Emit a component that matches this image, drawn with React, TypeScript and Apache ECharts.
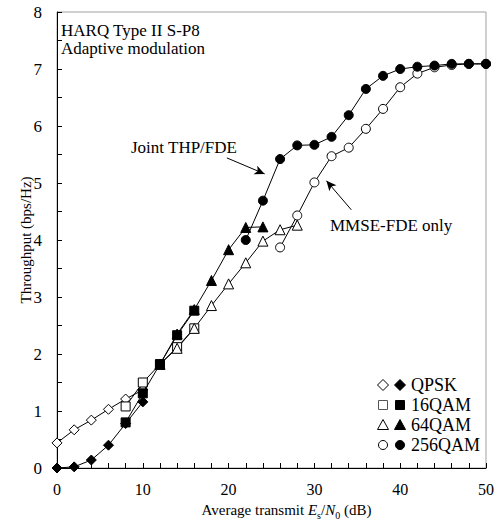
import React, { useEffect, useRef } from "react";
import * as echarts from "echarts";

// ---- data ----
const qpskX = [0, 2, 4, 6, 8, 10];
const qpskOpen = [0.44, 0.67, 0.84, 1.03, 1.21, 1.37];
const qpskFilled = [0.0, 0.02, 0.14, 0.4, 0.78, 1.16];

const qam16X = [8, 10, 12, 14, 16];
const qam16Open = [1.08, 1.5, 1.82, 2.12, 2.45];
const qam16Filled = [0.8, 1.31, 1.82, 2.33, 2.76];

const qam64X = [12, 14, 16, 18, 20, 22, 24, 26, 28];
const qam64Open = [1.82, 2.1, 2.45, 2.85, 3.23, 3.6, 3.98, 4.18, 4.26];
const qam64FilledX = [12, 14, 16, 18, 20, 22, 24];
const qam64Filled = [1.82, 2.35, 2.78, 3.29, 3.83, 4.22, 4.23];

const qam256OpenX = [26, 28, 30, 32, 34, 36, 38, 40, 42, 44, 46, 48, 50];
const qam256Open = [3.87, 4.43, 5.01, 5.47, 5.62, 5.95, 6.3, 6.68, 6.92, 7.03, 7.07, 7.09, 7.09];
const qam256FilledX = [22, 24, 26, 28, 30, 32, 34, 36, 38, 40, 42, 44, 46, 48, 50];
const qam256Filled = [4.0, 4.69, 5.42, 5.66, 5.67, 5.81, 6.19, 6.65, 6.88, 7.0, 7.04, 7.06, 7.09, 7.09, 7.09];

const legendNames = ["QPSK", "16QAM", "64QAM", "256QAM"];
const yTicks = [0, 1, 2, 3, 4, 5, 6, 7, 8];

const FONT = "Liberation Serif";

const zip = (xs: number[], ys: number[]) => xs.map((x, i) => [x, ys[i]]);

function mk(name: string, xs: number[], ys: number[], symbol: string, filled: boolean, size: number, z: number) {
  return {
    name,
    type: "line",
    data: zip(xs, ys),
    symbol,
    symbolSize: size,
    z,
    lineStyle: { color: "#000", width: 1 },
    itemStyle: { color: filled ? "#000" : "#fff", borderColor: "#000", borderWidth: 1 },
    emphasis: { disabled: true },
  };
}

export default function App() {
  const ref = useRef<HTMLDivElement>(null);
  useEffect(() => {
    if (!ref.current) return;
    const chart = echarts.init(ref.current, undefined, { renderer: "svg" });

    const legendRows = [385, 405, 425, 445];
    const legendGraphics: any[] = [];
    const shapes = ["diamond", "rect", "triangle", "circle"];
    legendRows.forEach((cy, i) => {
      [383, 400].forEach((cx, j) => {
        const fill = j === 0 ? "#fff" : "#000";
        const stroke = j === 0 && i === 1 ? "#555" : "#000";
        const style = { fill, stroke, lineWidth: 1 };
        const s = shapes[i];
        if (s === "diamond") {
          legendGraphics.push({ type: "polygon", shape: { points: [[cx, cy - 5.5], [cx + 5.5, cy], [cx, cy + 5.5], [cx - 5.5, cy]] }, style });
        } else if (s === "rect") {
          legendGraphics.push({ type: "rect", shape: { x: cx - 4.5, y: cy - 4.5, width: 9, height: 9 }, style });
        } else if (s === "triangle") {
          legendGraphics.push({ type: "polygon", shape: { points: [[cx, cy - 5.5], [cx + 5.5, cy + 4.5], [cx - 5.5, cy + 4.5]] }, style });
        } else {
          legendGraphics.push({ type: "circle", shape: { cx, cy, r: 4.5 }, style });
        }
      });
      legendGraphics.push({
        type: "text",
        x: 411,
        y: cy,
        style: { text: legendNames[i], font: `18px '${FONT}'`, fill: "#000", verticalAlign: "middle" },
      });
    });

    const option: any = {
      animation: false,
      backgroundColor: "#fff",
      grid: { left: 57, top: 12, right: 14, bottom: 59, show: true, borderColor: "#a0a0a0", borderWidth: 1, backgroundColor: "transparent" },
      xAxis: {
        type: "value",
        min: 0,
        max: 50,
        interval: 10,
        axisLine: { show: true, onZero: false, lineStyle: { color: "#000", width: 1 } },
        axisTick: { show: true, inside: true, length: 5, lineStyle: { color: "#000" } },
        minorTick: { show: true, splitNumber: 5, length: 5, lineStyle: { color: "#000" } },
        splitLine: { show: false },
        axisLabel: { color: "#000", fontFamily: FONT, fontSize: 16, margin: 13 },
        name: "{n|Average transmit }{i|E}{s|s}{n|/}{i|N}{s|0}{n| (dB)}",
        nameLocation: "middle",
        nameGap: 32,
        nameMoveOverlap: false,
        nameTextStyle: {
          color: "#000",
          fontFamily: FONT,
          fontSize: 15,
          padding: [0, 0, 0, 30],
          rich: {
            n: { fontFamily: FONT, fontSize: 15, color: "#000", lineHeight: 20, verticalAlign: "middle" },
            i: { fontFamily: FONT, fontSize: 15, fontStyle: "italic", color: "#000", lineHeight: 20, verticalAlign: "middle" },
            s: { fontFamily: FONT, fontSize: 10, color: "#000", lineHeight: 12, verticalAlign: "bottom" },
          },
        },
      },
      yAxis: {
        type: "value",
        min: 0,
        max: 8,
        interval: 1,
        axisLine: { show: true, onZero: false, lineStyle: { color: "#000", width: 1 } },
        axisTick: { show: true, inside: true, length: 5, lineStyle: { color: "#000" } },
        minorTick: { show: true, splitNumber: 2, length: 5, lineStyle: { color: "#000" } },
        splitLine: { show: false },
        axisLabel: {
          color: "#000",
          fontFamily: FONT,
          fontSize: 17,
          margin: 15,
          formatter: (v: number) => (yTicks.includes(v) ? String(v) : ""),
        },
        name: "Throughput (bps/Hz)",
        nameLocation: "middle",
        nameGap: 24,
        nameMoveOverlap: false,
        nameTextStyle: { color: "#000", fontFamily: FONT, fontSize: 15 },
      },
      series: [
        mk("QPSK open", qpskX, qpskOpen, "diamond", false, 10, 2),
        mk("16QAM open", qam16X, qam16Open, "rect", false, 9, 2),
        mk("64QAM open", qam64X, qam64Open, "triangle", false, 10, 2),
        mk("256QAM open", qam256OpenX, qam256Open, "circle", false, 9, 2),
        mk("QPSK", qpskX, qpskFilled, "diamond", true, 10, 3),
        mk("16QAM", qam16X, qam16Filled, "rect", true, 9, 3),
        mk("64QAM", qam64FilledX, qam64Filled, "triangle", true, 10, 3),
        mk("256QAM", qam256FilledX, qam256Filled, "circle", true, 9, 3),
        {
          type: "line",
          data: [],
          silent: true,
          markLine: {
            silent: true,
            symbol: ["none", "arrow"],
            symbolSize: [7, 10],
            label: { show: false },
            lineStyle: { color: "#000", width: 1, type: "solid" },
            data: [
              [{ coord: [19.8, 5.44] }, { coord: [24.2, 5.16] }],
              [{ coord: [34.3, 4.53] }, { coord: [31.4, 5.04] }],
            ],
          },
        },
      ],
      graphic: [
        { type: "text", x: 61, y: 30, style: { text: "HARQ Type II S-P8", font: `17px '${FONT}'`, fill: "#000", verticalAlign: "middle" } },
        { type: "text", x: 61, y: 48, style: { text: "Adaptive modulation", font: `17px '${FONT}'`, fill: "#000", verticalAlign: "middle" } },
        { type: "text", x: 131, y: 147, style: { text: "Joint THP/FDE", font: `17px '${FONT}'`, fill: "#000", verticalAlign: "middle" } },
        { type: "text", x: 330, y: 225, style: { text: "MMSE-FDE only", font: `17px '${FONT}'`, fill: "#000", verticalAlign: "middle" } },
        ...legendGraphics,
      ],
    };
    chart.setOption(option);
    return () => chart.dispose();
  }, []);
  return <div ref={ref} style={{ width: 500, height: 527, position: "absolute", left: 0, top: 0 }} />;
}
